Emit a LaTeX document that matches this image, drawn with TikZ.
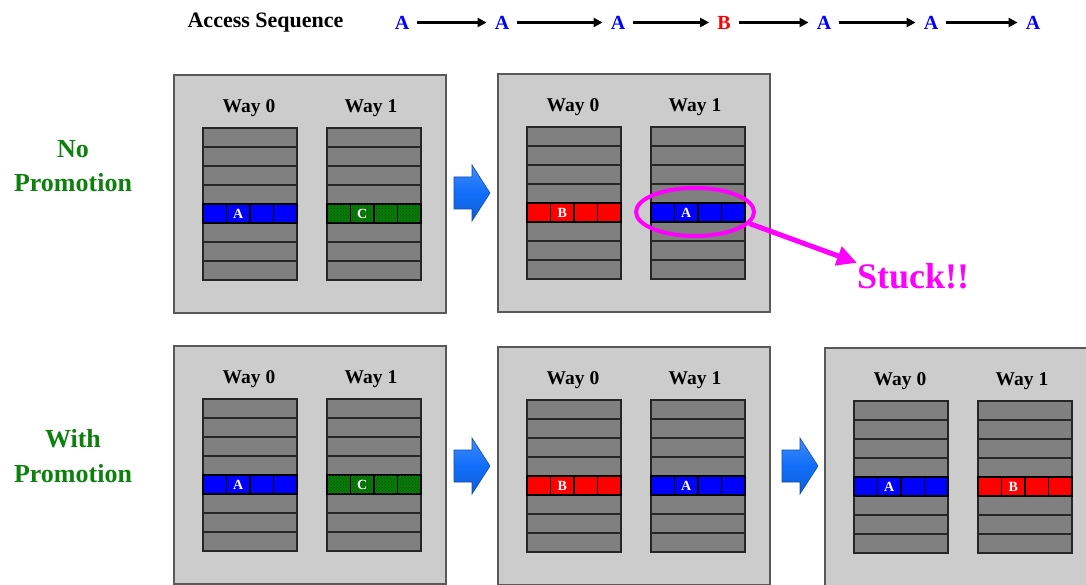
\documentclass[tikz,border=0pt]{standalone}
\usepackage{fontspec}
\setmainfont{Liberation Serif}
\usetikzlibrary{
    arrows.meta,
    shapes.geometric,
    patterns,
    positioning
}
\definecolor{panelgray}{RGB}{204,204,204}
\definecolor{rowgray}{RGB}{128,128,128}
\definecolor{labelgreen}{RGB}{14,128,14}
\definecolor{stepblue}{RGB}{18,110,250}
\definecolor{hotpink}{RGB}{255,0,255}
\tikzset{panel/.style={draw=black!65, fill=panelgray, line width=1.2pt}}
\tikzset{wayrow/.style={draw=black!85, fill=rowgray, line width=1.1pt}}
\tikzset{cellA/.style={draw=black, fill=blue, line width=1.2pt}}
\tikzset{cellB/.style={draw=black, fill=red, line width=1.2pt}}
\tikzset{cellC/.style={draw=black, fill=green!50!black, line width=1.2pt, postaction={pattern=crosshatch dots, pattern color=black!80}}}
\tikzset{celldiv/.style={draw=black, line width=1.3pt}}
\tikzset{waylabel/.style={anchor=base, inner sep=0pt, font=\fontsize{19.5}{19.5}\selectfont\bfseries}}
\tikzset{celllabel/.style={inner sep=0pt, text=white, font=\fontsize{14}{14}\selectfont\bfseries}}
\tikzset{sidelabel/.style={anchor=base, inner sep=0pt, text=labelgreen, font=\fontsize{26}{26}\selectfont\bfseries}}
\tikzset{seqletter/.style={inner sep=8pt, font=\fontsize{20}{20}\selectfont\bfseries}}
\tikzset{seqarrow/.style={line width=2.6pt, -{Triangle[length=9pt,width=9pt]}}}
\tikzset{stepbox/.style={draw=stepblue!70!black, top color=stepblue!80!white, bottom color=stepblue!85!black, middle color=stepblue, line width=0.6pt}}
\tikzset{ring/.style={ellipse, draw=hotpink, line width=4pt, minimum width=118pt, minimum height=48pt, inner sep=0pt}}

\begin{document}
\begin{tikzpicture}[x=1pt, y=-1pt]
    \useasboundingbox (0,0) rectangle (1086,585);
    \clip (0,0) rectangle (1086,585);

    \node[anchor=base, inner sep=0pt, font=\fontsize{22}{22}\selectfont\bfseries] (seqtitle) at (265.5,28) {Access Sequence};
    \node[seqletter, text=blue] (s1) at (402,22.5) {A};
    \node[seqletter, text=blue] (s2) at (502,22.5) {A};
    \node[seqletter, text=blue] (s3) at (618,22.5) {A};
    \node[seqletter, text=red]  (s4) at (724,22.5) {B};
    \node[seqletter, text=blue] (s5) at (824,22.5) {A};
    \node[seqletter, text=blue] (s6) at (931,22.5) {A};
    \node[seqletter, text=blue] (s7) at (1033,22.5) {A};
    \draw[seqarrow] (s1) -- (s2);
    \draw[seqarrow] (s2) -- (s3);
    \draw[seqarrow] (s3) -- (s4);
    \draw[seqarrow] (s4) -- (s5);
    \draw[seqarrow] (s5) -- (s6);
    \draw[seqarrow] (s6) -- (s7);

    \node[sidelabel] (nolbl) at (73,158) {No};
    \node[sidelabel] (nopromo) at (73,192) {Promotion};
    \node[sidelabel] (withlbl) at (73,447) {With};
    \node[sidelabel] (withpromo) at (73,482) {Promotion};

    \begin{scope}[shift={(174,75)}]
        \draw[panel] (0,0) rectangle (272,238);
        \node[waylabel] (t1w0) at (75,37.5) {Way 0};
        \node[waylabel] (t1w1) at (197,37.5) {Way 1};
        \foreach \row in {0,...,7} {
            \draw[wayrow] (29,{53+19*\row}) rectangle ++(94,19);
            \draw[wayrow] (153,{53+19*\row}) rectangle ++(94,19);
        }
        \draw[cellA] (29,129) rectangle ++(94,19);
        \draw[cellC] (153,129) rectangle ++(94,19);
        \foreach \col in {1,2,3} {
            \draw[celldiv] ({29+23.5*\col},129) -- ++(0,19);
            \draw[celldiv] ({153+23.5*\col},129) -- ++(0,19);
        }
        \node[celllabel] (t1a) at (64.25,138.5) {A};
        \node[celllabel] (t1c) at (188.25,138.5) {C};
    \end{scope}

    \draw[stepbox] (454,177) -- ++(18,0) -- ++(0,-12) -- ++(18,28) -- ++(-18,28) -- ++(0,-12) -- ++(-18,0) -- cycle;

    \begin{scope}[shift={(498,74)}]
        \draw[panel] (0,0) rectangle (272,238);
        \node[waylabel] (t2w0) at (75,37.5) {Way 0};
        \node[waylabel] (t2w1) at (197,37.5) {Way 1};
        \foreach \row in {0,...,7} {
            \draw[wayrow] (29,{53+19*\row}) rectangle ++(94,19);
            \draw[wayrow] (153,{53+19*\row}) rectangle ++(94,19);
        }
        \draw[cellB] (29,129) rectangle ++(94,19);
        \draw[cellA] (153,129) rectangle ++(94,19);
        \foreach \col in {1,2,3} {
            \draw[celldiv] ({29+23.5*\col},129) -- ++(0,19);
            \draw[celldiv] ({153+23.5*\col},129) -- ++(0,19);
        }
        \node[celllabel] (t2b) at (64.25,138.5) {B};
        \node[celllabel] (t2a) at (188.25,138.5) {A};
    \end{scope}

    \node[ring] (ring) at (695,212) {};
    \node[anchor=base west, inner sep=0pt, text=hotpink, font=\fontsize{36}{36}\selectfont\bfseries] (stuck) at (857,288) {Stuck!!};
    \draw[hotpink, line width=5pt, -{Triangle[length=20pt,width=19pt]}] (ring.-12) -- (stuck.north west);

    \begin{scope}[shift={(174,346)}]
        \draw[panel] (0,0) rectangle (272,238);
        \node[waylabel] (b1w0) at (75,37.5) {Way 0};
        \node[waylabel] (b1w1) at (197,37.5) {Way 1};
        \foreach \row in {0,...,7} {
            \draw[wayrow] (29,{53+19*\row}) rectangle ++(94,19);
            \draw[wayrow] (153,{53+19*\row}) rectangle ++(94,19);
        }
        \draw[cellA] (29,129) rectangle ++(94,19);
        \draw[cellC] (153,129) rectangle ++(94,19);
        \foreach \col in {1,2,3} {
            \draw[celldiv] ({29+23.5*\col},129) -- ++(0,19);
            \draw[celldiv] ({153+23.5*\col},129) -- ++(0,19);
        }
        \node[celllabel] (b1a) at (64.25,138.5) {A};
        \node[celllabel] (b1c) at (188.25,138.5) {C};
    \end{scope}

    \draw[stepbox] (454,450) -- ++(18,0) -- ++(0,-12) -- ++(18,28) -- ++(-18,28) -- ++(0,-12) -- ++(-18,0) -- cycle;

    \begin{scope}[shift={(498,347)}]
        \draw[panel] (0,0) rectangle (272,238);
        \node[waylabel] (b2w0) at (75,37.5) {Way 0};
        \node[waylabel] (b2w1) at (197,37.5) {Way 1};
        \foreach \row in {0,...,7} {
            \draw[wayrow] (29,{53+19*\row}) rectangle ++(94,19);
            \draw[wayrow] (153,{53+19*\row}) rectangle ++(94,19);
        }
        \draw[cellB] (29,129) rectangle ++(94,19);
        \draw[cellA] (153,129) rectangle ++(94,19);
        \foreach \col in {1,2,3} {
            \draw[celldiv] ({29+23.5*\col},129) -- ++(0,19);
            \draw[celldiv] ({153+23.5*\col},129) -- ++(0,19);
        }
        \node[celllabel] (b2b) at (64.25,138.5) {B};
        \node[celllabel] (b2a) at (188.25,138.5) {A};
    \end{scope}

    \draw[stepbox] (782,450) -- ++(18,0) -- ++(0,-12) -- ++(18,28) -- ++(-18,28) -- ++(0,-12) -- ++(-18,0) -- cycle;

    \begin{scope}[shift={(825,348)}]
        \draw[panel] (0,0) rectangle (272,238);
        \node[waylabel] (b3w0) at (75,37.5) {Way 0};
        \node[waylabel] (b3w1) at (197,37.5) {Way 1};
        \foreach \row in {0,...,7} {
            \draw[wayrow] (29,{53+19*\row}) rectangle ++(94,19);
            \draw[wayrow] (153,{53+19*\row}) rectangle ++(94,19);
        }
        \draw[cellA] (29,129) rectangle ++(94,19);
        \draw[cellB] (153,129) rectangle ++(94,19);
        \foreach \col in {1,2,3} {
            \draw[celldiv] ({29+23.5*\col},129) -- ++(0,19);
            \draw[celldiv] ({153+23.5*\col},129) -- ++(0,19);
        }
        \node[celllabel] (b3a) at (64.25,138.5) {A};
        \node[celllabel] (b3b) at (188.25,138.5) {B};
    \end{scope}
\end{tikzpicture}
\end{document}
